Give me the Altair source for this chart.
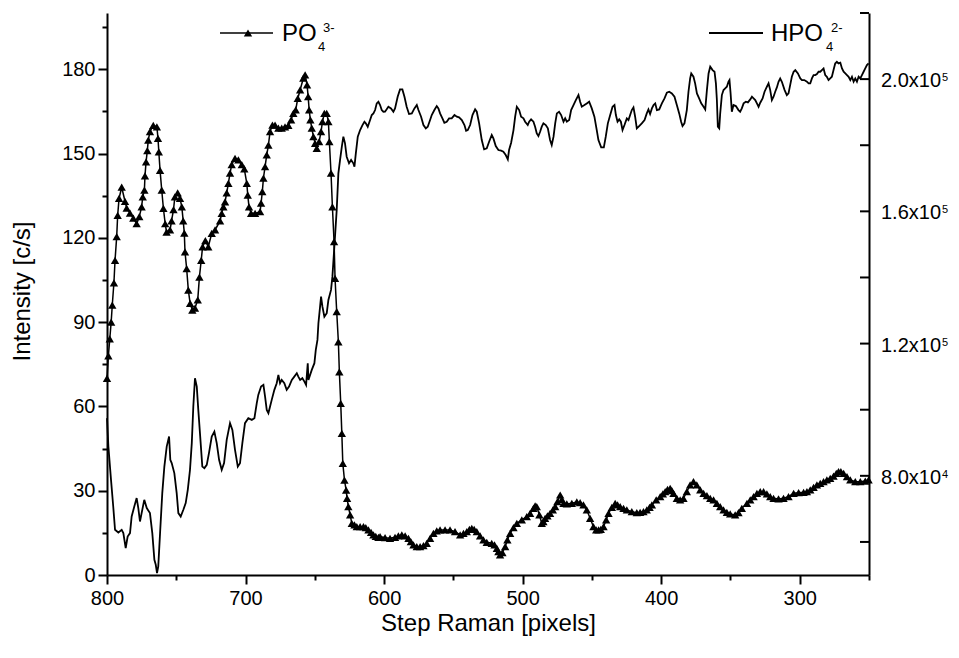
import altair as alt
import pandas as pd

# ---------------- data ----------------
po4_step = [800, 799, 798, 797, 796.2, 795, 794.2, 793, 792.3, 791.3, 789.4, 787, 785.8, 783.4, 781, 778.6,
            776.7, 775, 774.2, 773, 772.6, 771.8, 770.9, 770.2, 769, 766.6, 764, 763.2, 762.6, 761.7, 760.5,
            759.3, 758, 757, 754.5, 753.4, 752, 751, 749, 747.3, 746, 745, 744.2, 743.7, 742.5, 741.3, 740,
            738.4, 736.5, 734.5, 733.3, 732, 731, 729, 726.9, 724.4, 722, 718.4, 717.2, 716, 714.8, 713.6,
            712.4, 711.2, 710, 707.6, 705.2, 702.7, 700.9, 699.1, 698.4, 697.5, 696, 693.1, 689.5, 688.8,
            687.9, 687.1, 685.9, 684.7, 683.5, 682.3, 680.6, 678.7, 676.3, 673.9, 671.5, 669.1, 667.1, 665.5,
            663.8, 662.3, 660.6, 658.3, 657, 655.6, 654.8, 654.1, 653.2, 652.2, 651, 649.8, 648.6, 646.9,
            645.5, 644.5, 643.1, 641.4, 640.2, 639.5, 638.3, 637.3, 636.1, 635.4, 634.2, 633, 632.3, 631.3,
            630.5, 629.8, 628.6, 627.4, 626.7, 625.8, 624.5, 623.3, 621.4, 619.7, 617.3, 614.9, 613.2, 611.3,
            609.4, 607.7, 606.0, 604.1, 602.9, 599.3, 595.7, 592.1, 589.7, 587.2, 584.8, 582.4, 580.7, 578.8,
            576.4, 574.0, 571.6, 569.2, 566.8, 564.4, 562.0, 559.6, 556.0, 552.4, 548.8, 545.1, 542.7, 540.3,
            538.4, 536.7, 535.0, 533.1, 530.7, 528.3, 525.9, 522.3, 520.3, 518.6, 517.5, 516.3, 514.6, 512.6,
            511.0, 509.0, 506.6, 504.2, 500.6, 497.0, 494.6, 492.2, 491.0, 489.8, 487.9, 486.2, 485.0, 483.8,
            482.1, 480.2, 478.2, 476.5, 474.9, 472.9, 471.7, 470.5, 468.1, 464.5, 460.9, 458.5, 456.1, 453.7,
            451.3, 448.9, 446.9, 445.2, 443.6, 441.6, 439.7, 438.0, 435.6, 433.2, 431.5, 429.6, 427.2, 424.8,
            421.2, 417.6, 415.2, 412.8, 410.4, 408.4, 406.7, 403.6, 400.7, 398.8, 397.1, 395.4, 393.5, 392.3,
            391.1, 388.7, 386.3, 383.9, 381.5, 379.1, 376.7, 374.3, 371.8, 369.4, 367.0, 364.6, 362.2, 359.8,
            357.4, 355.0, 352.6, 350.2, 346.6, 344.2, 341.8, 338.1, 335.7, 333.3, 330.9, 328.5, 326.1, 323.7,
            321.3, 318.9, 315.3, 311.7, 308.1, 304.4, 300.8, 297.2, 294.8, 292.4, 290.0, 287.6, 285.2, 282.8,
            280.4, 278.0, 275.6, 273.6, 272.0, 270.3, 268.3, 265.9, 263.5, 259.9, 256.3, 252.7, 250.3]
po4_val = [70, 78, 84, 90, 96, 104, 112, 120.4, 128, 134, 138, 133, 130.6, 128.8, 127, 125,
           127.5, 131, 134.6, 137, 142, 147, 151, 154.8, 157.8, 160, 159.5, 155.4, 150.6, 144, 137,
           130.5, 125, 122, 122.8, 126, 130, 134.6, 136, 134, 131, 126, 121.7, 115, 109, 101.4, 96.7,
           94.3, 95, 97.9, 106, 112, 116.8, 119, 116.8, 121.6, 122.8, 126, 128.7, 131, 132.8, 136,
           139.4, 143, 146, 148.3, 147.7, 146, 144.5, 139.4, 135.2, 131, 128.7, 128.7, 129.3, 132.3,
           136.4, 141.2, 145.3, 149.5, 153, 157.8, 160.1, 160.1, 159, 159, 159.5, 160, 162, 164.3,
           165.5, 169.6, 172.6, 176.8, 178, 174.4, 170.2, 165.5, 162, 159, 156, 153.6, 151.8, 154.2,
           157.8, 161.3, 164.3, 164.3, 161.3, 154.2, 143, 131, 118.6, 105.6, 93.7, 83, 72.3, 61.1,
           50.4, 39.7, 33.8, 30.2, 27.3, 24.3, 21.4, 18.4, 17.8, 17.2, 17.2, 17.2, 16.85, 16.02,
           15.19, 14.24, 13.76, 13.41, 13.65, 13.29, 13.05, 13.41, 13.88, 14.24, 13.88, 13.05, 11.87, 10.68,
           10.09, 10.09, 10.44, 11.27, 13.05, 14.83, 15.66, 16.02, 16.02, 16.02, 15.42, 14.24, 14.83, 15.42,
           16.25, 16.61, 16.25, 15.42, 13.88, 12.46, 11.63, 11.27, 10.68, 9.49, 8.31, 7.12, 7.95, 10.09,
           12.46, 14.83, 16.85, 18.39, 19.58, 20.76, 21.95, 23.73, 24.56, 24.32, 21.36, 18.39, 18.98, 20.17,
           21.0, 21.95, 23.14, 24.32, 26.1, 28.47, 26.93, 25.51, 25.27, 25.51, 25.98, 25.74, 24.92, 23.14,
           20.17, 17.2, 16.02, 16.02, 16.25, 17.2, 19.58, 21.95, 24.09, 25.51, 24.92, 24.32, 23.73, 23.14,
           22.54, 22.18, 22.3, 22.54, 23.14, 24.09, 24.92, 26.7, 27.88, 28.83, 29.66, 30.49, 30.85, 30.01,
           29.07, 27.29, 26.7, 27.29, 29.66, 32.03, 33.22, 32.03, 30.25, 29.07, 28.24, 27.29, 26.7, 25.51,
           24.32, 23.14, 22.3, 21.71, 21.36, 22.18, 23.73, 25.51, 26.7, 27.88, 29.07, 29.66, 29.66, 28.83,
           27.88, 27.29, 27.05, 27.29, 27.88, 29.07, 29.3, 29.42, 29.66, 30.25, 31.2, 32.03, 32.62, 33.22,
           33.81, 34.4, 35.23, 36.18, 36.77, 36.77, 36.18, 35.0, 33.81, 33.22, 33.22, 33.45, 33.81]

hpo4_step = [800, 799, 797.1, 795.5, 794.2, 791.8, 789.4, 788.2, 786.5, 785.1, 783.4, 782.2, 780.3, 778.6,
             777.4, 776.2, 775, 773.1, 771.3, 769, 767.3, 765.8, 764.8, 763.9, 763, 761.7, 760.1, 758.6,
             756.9, 755.2, 754.3, 753.3, 751.4, 749.7, 748.5, 746.8, 744.9, 743.2, 741.7, 740.1, 738.8,
             737.7, 736.5, 735.2, 734.1, 732.9, 731.2, 729.7, 728, 726.4, 724.4, 722.5, 720.8, 719.1,
             717.2, 715.5, 713.6, 711.2, 709.5, 707.6, 705.6, 704, 702.3, 700.4,
             698, 695.5, 693.6, 691.9, 690.8, 688.8, 687.1, 685.9, 684.7, 683.5, 682.3, 681.1, 679.2,
             677.5, 676.3, 675.1, 673.9, 672, 670.3, 668.6, 666.6, 664.8, 663, 661.9, 660.6, 659, 657.5,
             656.3, 655.1, 654.6, 653.4, 652.2, 650.3, 649.3, 648.1, 647.4, 646.2,
             645.5, 644.5, 643.1, 641.4, 640.2, 638.3, 637.3, 635.9, 634.2, 633, 631.8, 630.5, 629.4,
             628.2, 627, 625.3, 623.8, 622.2, 621.4, 620.4, 619, 617.3, 615.6, 614.2, 613.2, 611.8, 610.1,
             608.9, 607.7, 606.5, 605.3, 604.1, 602.9, 601.7, 600.5,
             599.3, 596.9, 595, 593.3, 592.1, 590.2, 588.5, 586.8, 585.3, 583.7, 582, 580, 578.1, 576.4,
             575.2, 573.3, 571.6, 569.9, 568.5, 566.8, 565.6, 563.7, 562, 560.8, 559.6, 557.9, 556.5,
             554.8, 553.1, 551.2, 549.2, 547.5, 545.9, 543.9, 542, 540.8, 539.6, 537.9, 536.2, 534.3,
             533.1, 531.4, 529.5, 527.8, 525.9, 524.2, 522.3, 521.1, 519.4, 517.5, 515.5, 513.9, 512.2,
             510.7, 509.8, 508.3, 506.6, 505.4, 504.2, 502.5, 501.1, 499.4, 498.2, 496.3, 495.3, 493.9,
             492.2, 491, 489.8, 488.6, 487.4, 486.2, 485, 483.3, 481.8, 480.2, 479, 477.7, 476.5, 475.3,
             473.7, 472.2, 470.5, 469.3, 468.1, 466.4, 465, 463.3, 461.6, 459.7, 458.5, 457.3, 455.4,
             453.7, 452, 450.1, 448.2, 446.5, 445.3, 443.3, 441.4, 440, 438.5, 436.8, 435.1, 433.7,
             432.7, 431.5, 430.3, 429.1, 427.9, 426.5,
             424.8, 423.6, 422.4, 421.2, 420, 418.8, 417.6, 415.9, 414, 412, 410.4, 409.2, 408, 406.7,
             405.5, 404.3, 403.1, 401.4, 399.5, 397.6, 395.9, 394.2, 392.3, 390.4, 388.7, 387, 385.6,
             384.6, 383.2, 381.5, 380.3, 379.1, 378.3, 376.7, 375.5, 374.2, 372.6, 371.1, 369.4, 368.2,
             367, 365.8, 364.6, 362.9, 361.5, 360.5, 359.8, 359.1, 358.1, 357.4, 356.2, 355, 353.8, 352.6,
             351.4, 350.7, 349.9, 349, 347.8, 346.1, 344.2, 343, 341.8, 340.5, 338.9, 337.4, 335.7, 334.5,
             333.3, 332.1, 330.9, 329.7, 328.5, 326.8, 325.4, 323.7, 322.5, 321.3, 320.1, 318.9, 317.7,
             316.5, 315.3, 314.1, 312.9, 310.9, 309.3, 308.1, 306.9, 305.7, 304.4, 303.2, 301.3, 299.6,
             298.4, 296.7, 294.8, 293.6, 292.4, 291.2, 290, 288.8, 287.6, 286.4, 285.2, 284, 282.8, 281.6,
             280.4, 279.2, 278, 276.8, 275.6, 274.4, 273.2, 272, 270.7, 269.5, 268.3, 267.1, 265.9, 264.7,
             263.5, 262.3, 261.1, 259.9, 258.7, 257.5, 256.3, 255.1, 253.9, 252.7, 251.5, 250.3]
hpo4_val = [97443, 88857, 78791, 70719, 63676, 62860, 63676, 62678, 58144, 61650, 62678, 67697, 70719, 73259,
            70236, 66185, 68724, 72745, 70236, 68724, 62678, 54607, 53095, 50586, 52581, 62678, 74770, 82811,
            88857, 91880, 84837, 83839, 80816, 74770, 68724, 67697, 69722, 71747, 75768, 81814, 89885,
            100950, 109535, 106995, 99952, 92908, 82811, 82328, 83325, 86862, 91880, 93392, 89885, 84837,
            81814, 83839, 90883, 95931, 93906, 87860, 82811, 83839, 89885, 95931,
            97443, 96929, 97443, 101977, 104486, 106995, 107509, 103973, 99952, 98955, 100950, 102975, 105998,
            108024, 110532, 108024, 109021, 108024, 105998, 106995, 109021, 110018, 111046, 110018, 109021, 109535, 108507,
            107509, 114069, 109021, 110532, 112044, 114069, 118090, 121113, 126161, 131180,
            134203, 131180, 128157, 129185, 133205, 136228, 140249, 149318, 160412, 171507, 175527, 179548, 182571,
            180576, 176524, 174529, 175527, 174529, 173502, 177552, 182571, 184596, 186107, 187105, 186621, 185593, 187619,
            189130, 189644, 190642, 192667, 193151, 192153, 190642, 190128,
            190138, 191649, 191146, 190138, 191146, 194672, 196889, 196889, 194672, 191649, 189432, 189634, 191146, 192153,
            190642, 188627, 186107, 185099, 185603, 187618, 189130, 190642, 191851, 191146, 189634, 188122, 186812,
            187115, 188122, 188122, 189130, 188627, 188425, 187618, 186107, 184394, 184595, 186107, 189130, 190843,
            190138, 186611, 181572, 178751, 179053, 181069, 183084, 182076, 179758, 178549, 178348, 178045, 177038,
            175728, 178549, 180766, 184595, 188627, 191649, 190642, 188627, 188122, 187115, 186107, 187115, 187820,
            187115, 185603, 183588, 182781, 184092, 185603, 186611, 186107, 185099, 181572, 180061, 182580, 186611, 189634,
            190138, 189130, 187115, 188122, 187115, 187618, 190642, 192153, 193665, 195176, 193161, 191649, 192153,
            192657, 193161, 191146, 188627, 184595, 181572, 179355, 179355, 182580, 186611, 189130, 191649, 192153,
            189130, 187115, 187820, 187115, 184595, 186107,
            188122, 187618, 189130, 190641, 191448, 188626, 185099, 185804, 186611, 187618, 189633, 190843, 189432, 191145,
            192153, 192657, 190641, 190843, 192657, 194168, 195881, 196184, 195680, 194672, 192153, 189633, 187114,
            185804, 186611, 190641, 196184, 200215, 201726, 200719, 198703, 195680, 194168, 192657, 191649, 190843,
            196688, 201726, 203742, 202734, 202230, 198703, 193665, 185603, 185099, 189634, 195176, 196688, 197191, 197695,
            199207, 199711, 195680, 190138, 192153, 191851, 190641, 190138, 191145, 192657, 193161, 192959, 193866, 194672,
            194168, 193665, 192657, 191649, 192858, 194168, 196184, 197695, 198703, 196688, 193665, 194672, 196184,
            197494, 199207, 200215, 199207, 196688, 195176, 195680, 198199, 200719, 202230, 202734, 201726, 200215,
            199711, 199711, 199207, 198703, 198703, 200215, 201222, 201222, 201525, 202230, 202230, 202734, 203238, 201222,
            200719, 199711, 200215, 200719, 202734, 204749, 205253, 204749, 204951, 203238, 202230, 201726, 201222, 200719,
            199711, 200719, 199207, 200215, 199207, 200719, 200215, 201222, 202230, 203238, 204245, 204749]

x_major = [800, 700, 600, 500, 400, 300]
x_minor = [750, 650, 550, 450, 350, 250]
left_ticks = [0, 15, 30, 45, 60, 75, 90, 105, 120, 135, 150, 165, 180, 195]
right_major = [80000, 120000, 160000, 200000]
right_minor = [60000, 100000, 140000, 180000, 220000]
right_label_main = ["8.0x10", "1.2x10", "1.6x10", "2.0x10"]
right_label_exp = ["4", "5", "5", "5"]

W, H = 762, 562
FONT = "Liberation Sans"
LAB = 20
TITLE = 24

po4 = pd.DataFrame({"step": po4_step, "po4": po4_val})
hpo4 = pd.DataFrame({"step": hpo4_step, "hpo4": hpo4_val})

xscale = alt.Scale(domain=[250, 800], reverse=True, nice=False, zero=False)
lscale = alt.Scale(domain=[0, 200], nice=False, zero=False)
rscale = alt.Scale(domain=[50000, 220000], nice=False, zero=False)

xaxis = alt.Axis(values=x_major + x_minor, title="Step Raman [pixels]",
                 labelExpr="datum.value % 100 === 0 ? datum.label : ''",
                 tickSize={"condition": {"test": "datum.value % 100 === 0", "value": 9}, "value": 5},
                 labelFlush=False, labelPadding=4,
                 titleX=W / 2, titleY=48, titleAlign="center", titleBaseline="middle", grid=False)

x_enc = alt.X("step:Q", scale=xscale, axis=xaxis)

po4_line = alt.Chart(po4).mark_line(color="black", strokeWidth=1.5).encode(
    x=x_enc,
    y=alt.Y("po4:Q", scale=lscale,
            axis=alt.Axis(orient="left", values=left_ticks, title="Intensity [c/s]",
                          labelExpr="datum.value % 30 === 0 ? datum.label : ''",
                          tickSize={"condition": {"test": "datum.value % 30 === 0", "value": 9}, "value": 5},
                          labelFlush=False, labelPadding=3,
                          titleX=-85, titleY=278, titleAngle=270, titleAlign="center",
                          titleBaseline="middle", grid=False)),
)
po4_pts = alt.Chart(po4).mark_point(shape="triangle-up", filled=True, color="black", size=70, opacity=1).encode(
    x=alt.X("step:Q", scale=xscale),
    y=alt.Y("po4:Q", scale=lscale, axis=None),
)

hpo4_line = alt.Chart(hpo4).mark_line(color="black", strokeWidth=1.8).encode(
    x=alt.X("step:Q", scale=xscale),
    y=alt.Y("hpo4:Q", scale=rscale,
            axis=alt.Axis(orient="right", labels=False, ticks=False, title=None, grid=False)),
)

rmaj = pd.DataFrame({"v": right_major, "main": right_label_main, "exp": right_label_exp})
rmin = pd.DataFrame({"v": right_minor})

rtick_major = alt.Chart(rmaj).mark_rule(color="black", strokeWidth=2).encode(
    x=alt.value(W - 9), x2=alt.value(W),
    y=alt.Y("v:Q", scale=rscale, axis=None))
rtick_minor = alt.Chart(rmin).mark_rule(color="black", strokeWidth=2).encode(
    x=alt.value(W - 9), x2=alt.value(W),
    y=alt.Y("v:Q", scale=rscale, axis=None))
rlab_main = alt.Chart(rmaj).mark_text(align="left", baseline="middle", font=FONT, fontSize=LAB, dy=2,
                                      color="black").encode(
    x=alt.value(W + 12), y=alt.Y("v:Q", scale=rscale, axis=None), text="main:N")
rlab_exp = alt.Chart(rmaj).mark_text(align="left", baseline="middle", font=FONT, fontSize=11, dy=-1,
                                     color="black").encode(
    x=alt.value(W + 12 + 61), y=alt.Y("v:Q", scale=rscale, axis=None), text="exp:N")

one = pd.DataFrame({"a": [0]})
leg_line1 = alt.Chart(one).mark_rule(color="black", strokeWidth=1.5).encode(
    x=alt.value(113), x2=alt.value(166), y=alt.value(20))
leg_tri1 = alt.Chart(one).mark_point(shape="triangle-up", filled=True, color="black", size=70, opacity=1).encode(
    x=alt.value(141), y=alt.value(20))
leg_txt1 = alt.Chart(one).mark_text(align="left", baseline="middle", font=FONT, fontSize=24, color="black").encode(
    x=alt.value(175), y=alt.value(21), text=alt.value("PO"))
leg_sub1 = alt.Chart(one).mark_text(align="left", baseline="middle", font=FONT, fontSize=13, color="black").encode(
    x=alt.value(211), y=alt.value(34), text=alt.value("4"))
leg_sup1 = alt.Chart(one).mark_text(align="left", baseline="middle", font=FONT, fontSize=13, color="black").encode(
    x=alt.value(216), y=alt.value(15), text=alt.value("3-"))

leg_line2 = alt.Chart(one).mark_rule(color="black", strokeWidth=1.8).encode(
    x=alt.value(602), x2=alt.value(656), y=alt.value(20))
leg_txt2 = alt.Chart(one).mark_text(align="left", baseline="middle", font=FONT, fontSize=24, color="black").encode(
    x=alt.value(664), y=alt.value(21), text=alt.value("HPO"))
leg_sub2 = alt.Chart(one).mark_text(align="left", baseline="middle", font=FONT, fontSize=13, color="black").encode(
    x=alt.value(719), y=alt.value(34), text=alt.value("4"))
leg_sup2 = alt.Chart(one).mark_text(align="left", baseline="middle", font=FONT, fontSize=13, color="black").encode(
    x=alt.value(724), y=alt.value(15), text=alt.value("2-"))

chart = alt.layer(
    po4_line, hpo4_line, po4_pts, rtick_major, rtick_minor, rlab_main, rlab_exp,
    leg_line1, leg_tri1, leg_txt1, leg_sub1, leg_sup1,
    leg_line2, leg_txt2, leg_sub2, leg_sup2,
).resolve_scale(y="independent").properties(
    width=W, height=H,
    autosize=alt.AutoSizeParams(type="none"),
    padding={"left": 107, "top": 13, "right": 90, "bottom": 83},
).configure_view(stroke=None).configure_axis(
    labelFont=FONT, titleFont=FONT, labelFontSize=LAB, titleFontSize=TITLE,
    labelColor="black", titleColor="black", titleFontWeight="normal",
    domainColor="black", tickColor="black", domainWidth=2, tickWidth=2,
)

chart.save("out.html", embed_options={"renderer": "svg", "actions": False})
